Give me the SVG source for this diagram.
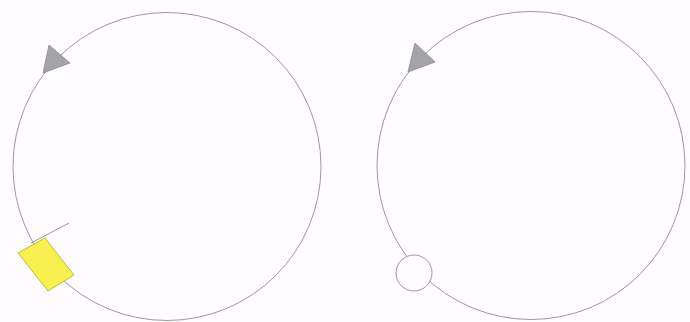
<svg xmlns="http://www.w3.org/2000/svg" width="690" height="322" viewBox="0 0 690 322">
<style>
.ring{fill:none;stroke:#9a9a9a;stroke-width:1}
.arrow{fill:#a3a3a8;stroke:#8a8a8e;stroke-width:0.8}
</style>
<rect width="690" height="322" fill="#fefcfe"/>
<g id="connectors">
<circle class="ring" cx="167" cy="166.5" r="154"/>
<circle class="ring" cx="531" cy="165.5" r="154"/>
<line class="ring" x1="31" y1="243" x2="69" y2="223"/>
</g>
<g id="arrow-left"><polygon class="arrow" points="49,45 70,63 43,73"/></g>
<g id="arrow-right"><polygon class="arrow" points="415,43 435,62 408,72"/></g>
<g id="node-yellow"><polygon points="18,253 45,238 74,275 48,291" fill="#f7f050" stroke="#c2bc40" stroke-width="1"/></g>
<g id="node-circle"><circle cx="414" cy="273" r="18" fill="#fefcfe" stroke="#9a9a9a" stroke-width="1"/></g>
</svg>
